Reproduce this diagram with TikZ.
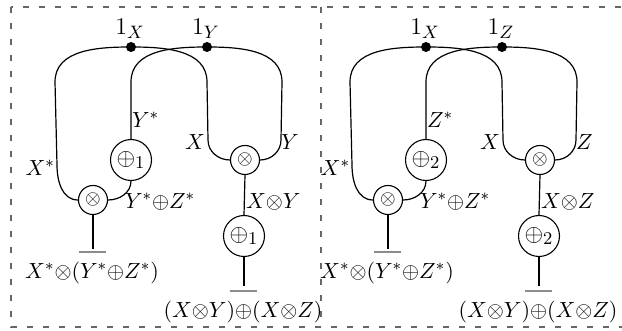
\documentclass[tikz,border=0pt]{standalone}
\begin{document}
\begin{tikzpicture}[x=0.5pt,y=-0.5pt,
  wire/.style={line width=0.6pt},
  tens/.style={circle,draw,line width=0.55pt,minimum size=14.5pt,inner sep=0pt},
  plusn/.style={circle,draw,line width=0.55pt,minimum size=20.5pt,inner sep=0pt,font=\fontsize{12.5}{15}\selectfont},
  unitdot/.style={circle,fill,minimum size=5pt,inner sep=0pt},
  unitlab/.style={font=\fontsize{13}{15}\selectfont,inner sep=0pt},
  lab/.style={inner sep=0.3pt,font=\fontsize{11}{13}\selectfont},
  groundbar/.style={draw=black!45,line width=1pt},
  framebox/.style={draw=black!60,line width=0.8pt,dash pattern=on 3pt off 5pt}]
\useasboundingbox (0,0) rectangle (622,331);
\draw[framebox] (11,7) rectangle (700,327);
\draw[framebox] (321,7) -- (321,327);
\foreach \dx/\ltr/\idx/\pf in {0/Y/1/a,295/Z/2/b}{
\begin{scope}[shift={(\dx,0)}]
  \node[unitdot] (\pf ux) at (131,47) {};
  \node[unitdot] (\pf uy) at (207,47) {};
  \node[unitlab] (\pf lx) at (130,29) {$1_X$};
  \node[unitlab] (\pf ly) at (206,29) {$1_\ltr$};
  \node[tens] (\pf tl) at (93,200) {$\otimes$};
  \node[tens] (\pf tr) at (245,160) {$\otimes$};
  \node[plusn] (\pf pu) at (131,160) {$\oplus_\idx$};
  \node[plusn] (\pf pl) at (244,236) {$\oplus_\idx$};
  \coordinate (\pf el) at (93,249);
  \coordinate (\pf er) at (244,286);
  \coordinate (\pf bl1) at (79,252);
  \coordinate (\pf bl2) at (106,252);
  \coordinate (\pf br1) at (230,291);
  \coordinate (\pf br2) at (257,291);
  \draw[wire] (\pf ux.center) to[out=180,in=90] (55,82) -- (57,165) to[out=-90,in=180] (\pf tl.west);
  \draw[wire] (\pf ux.center) to[out=0,in=90] (207,82) -- (208,140) to[out=-90,in=180] (\pf tr.west);
  \draw[wire] (\pf uy.center) to[out=180,in=90] (131,82) -- (\pf pu.north);
  \draw[wire] (\pf uy.center) to[out=0,in=90] (282,82) -- (281,140) to[out=-90,in=0] (\pf tr.east);
  \draw[wire] (\pf pu.south) to[out=-90,in=0] (\pf tl.east);
  \draw[wire] (\pf tr.south) -- (\pf pl.north);
  \draw[wire] (\pf pl.south) -- (\pf er);
  \draw[wire] (\pf tl.south) -- (\pf el);
  \draw[groundbar] (\pf bl1) -- (\pf bl2);
  \draw[groundbar] (\pf br1) -- (\pf br2);
  \node[lab,anchor=west] at (131,120) {$\ltr^*$};
  \node[lab,anchor=east] at (206,142) {$X$};
  \node[lab,anchor=west] at (280,142) {$\ltr$};
  \node[lab,anchor=east] at (56,168) {$X^*$};
  \node[lab,anchor=west] at (124,202) {$Y^*{\oplus}Z^*$};
  \node[lab,anchor=west] at (245,202) {$X{\otimes}\ltr$};
  \node[lab] at (92,273) {$X^*{\otimes}(Y^*{\oplus}Z^*)$};
  \node[lab] at (243,312) {$(X{\otimes}Y){\oplus}(X{\otimes}Z)$};
\end{scope}
}
\end{tikzpicture}
\end{document}
